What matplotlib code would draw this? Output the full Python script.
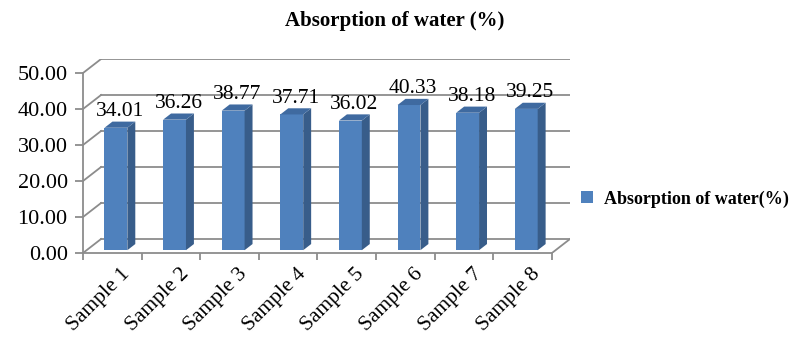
import numpy as np
from matplotlib import pyplot as plt
from matplotlib.patches import Polygon, Patch

samples = ['Sample 1', 'Sample 2', 'Sample 3', 'Sample 4',
           'Sample 5', 'Sample 6', 'Sample 7', 'Sample 8']
absorption = [34.01, 36.26, 38.77, 37.71, 36.02, 40.33, 38.18, 39.25]
y_ticks = [0, 10, 20, 30, 40, 50]

plt.rcParams['font.family'] = ['Liberation Serif', 'DejaVu Serif']

fig = plt.figure(figsize=(7.99, 3.56), dpi=100)
ax = fig.add_axes([83 / 799, (356 - 253) / 356, 487 / 799, 194 / 356])

# fake 3d depth vector in data units
dx, dy = 0.308, 3.89
grid_c = '#8c8c8c'
n = len(samples)

ax.set_xlim(0, n + dx)
ax.set_ylim(0, 50 + dy)
for s in ax.spines.values():
    s.set_visible(False)

# walls / gridlines
for v in y_ticks:
    ax.plot([dx, n + dx], [v + dy, v + dy], color=grid_c, lw=1.3, zorder=1)
    ax.plot([0, dx], [v, v + dy], color=grid_c, lw=1.3, zorder=1)
ax.plot([n, n + dx], [0, dy], color=grid_c, lw=1.3, zorder=1)

# axis lines
ax.plot([0, 0], [0, 50], color=grid_c, lw=1.3, zorder=3, clip_on=False)
ax.plot([0, n], [0, 0], color=grid_c, lw=1.3, zorder=3, clip_on=False)

# bars
w = 0.39
d1, dd = 0.2, 0.44
for i, v in enumerate(absorption):
    c = i + 0.5
    xl = c - w / 2 + d1 * dx
    xr = xl + w
    yb = d1 * dy
    yt = yb + v
    ox, oy = dd * dx, dd * dy
    ax.add_patch(Polygon([(xl, yb), (xr, yb), (xr, yt), (xl, yt)],
                         closed=True, fc='#4f81bd', ec='none', zorder=4))
    ax.add_patch(Polygon([(xr, yb), (xr + ox, yb + oy), (xr + ox, yt + oy), (xr, yt)],
                         closed=True, fc='#385d8a', ec='none', zorder=4))
    ax.add_patch(Polygon([(xl, yt), (xr, yt), (xr + ox, yt + oy), (xl + ox, yt + oy)],
                         closed=True, fc='#3f6aa0', ec='none', zorder=4))
    ax.text(xl + w / 2 + ox / 2, yt + oy + 0.1, f'{v:.2f}', ha='center', va='bottom',
            fontsize=15.5, zorder=5)

# y axis ticks
ax.set_yticks(y_ticks)
ax.set_yticklabels([f'{v:.2f}' for v in y_ticks], fontsize=16)
ax.tick_params(axis='y', length=6, width=1.3, color=grid_c, pad=5)

# x axis ticks at category boundaries, labels at centres
ax.set_xticks(np.arange(n + 1), minor=True)
ax.set_xticks([])
ax.tick_params(axis='x', which='minor', length=5, width=1.3, color=grid_c)
for i, lab in enumerate(samples):
    ax.text(i + 0.64, -3.3, lab, rotation=45, ha='right', va='top',
            rotation_mode='anchor', fontsize=15.5, clip_on=False)

fig.text(0.494, 0.94, 'Absorption of water (%)', ha='center', va='center',
         fontsize=15, fontweight='bold')

handle = Patch(facecolor='#4f81bd', edgecolor='none', label='Absorption of water(%)')
leg = fig.legend(handles=[handle], loc='center left', bbox_to_anchor=(581 / 799, 1 - 199 / 356),
                 frameon=False, handlelength=0.65, handleheight=0.65, handletextpad=0.6,
                 borderaxespad=0, borderpad=0, prop={'size': 13, 'weight': 'bold'})

fig.savefig('out.png', dpi=100)
